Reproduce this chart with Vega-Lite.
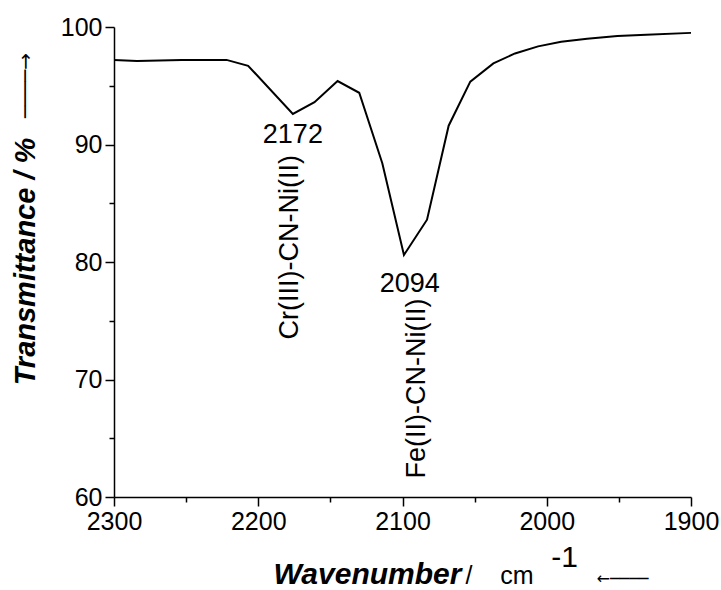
{
  "$schema": "https://vega.github.io/schema/vega-lite/v6.json",
  "width": 577,
  "height": 470,
  "autosize": {"type": "none"},
  "padding": {"left": 114, "top": 27, "right": 30, "bottom": 93},
  "background": "white",
  "config": {"view": {"stroke": null}, "font": "Liberation Sans"},
  "datasets": {
    "spectrum": [
      {"w": 2300, "T": 97.2},
      {"w": 2284, "T": 97.1},
      {"w": 2253, "T": 97.2},
      {"w": 2222, "T": 97.2},
      {"w": 2207, "T": 96.7},
      {"w": 2176, "T": 92.6},
      {"w": 2161, "T": 93.6},
      {"w": 2145, "T": 95.4},
      {"w": 2130, "T": 94.4},
      {"w": 2114, "T": 88.4},
      {"w": 2099, "T": 80.6},
      {"w": 2083, "T": 83.6},
      {"w": 2068, "T": 91.6},
      {"w": 2053, "T": 95.35},
      {"w": 2037, "T": 96.9},
      {"w": 2022, "T": 97.75},
      {"w": 2006, "T": 98.35},
      {"w": 1990, "T": 98.75},
      {"w": 1972, "T": 99.0},
      {"w": 1951, "T": 99.23},
      {"w": 1931, "T": 99.35},
      {"w": 1900, "T": 99.5}
    ],
    "peaks": [
      {"w": 2176, "T": 90.1, "label": "2172"},
      {"w": 2095, "T": 77.45, "label": "2094"}
    ],
    "bonds": [
      {"w": 2178, "T": 89.1, "label": "Cr(III)-CN-Ni(II)"},
      {"w": 2090, "T": 76.9, "label": "Fe(II)-CN-Ni(II)"}
    ]
  },
  "resolve": {"axis": {"x": "independent", "y": "independent"}},
  "layer": [
    {
      "data": {"name": "spectrum"},
      "mark": {"type": "line", "color": "black", "strokeWidth": 2},
      "encoding": {
        "x": {
          "field": "w", "type": "quantitative",
          "scale": {"domain": [1900, 2300], "reverse": true, "nice": false, "zero": false},
          "axis": {
            "orient": "bottom", "values": [2300, 2200, 2100, 2000, 1900], "format": "d",
            "grid": false, "tickSize": 9, "tickWidth": 1.5, "tickColor": "black",
            "domainWidth": 1.5, "domainColor": "black",
            "labelFont": "Liberation Sans", "labelFontSize": 25, "labelColor": "black",
            "labelPadding": 3, "labelFlush": false, "labelOverlap": false,
            "title": "Wavenumber", "titleFont": "Liberation Sans", "titleFontSize": 30,
            "titleFontWeight": "bold", "titleFontStyle": "italic", "titleColor": "black",
            "titleX": 253, "titleY": 86, "titleAlign": "center", "titleBaseline": "alphabetic"
          }
        },
        "y": {
          "field": "T", "type": "quantitative",
          "scale": {"domain": [60, 100], "nice": false, "zero": false},
          "axis": {
            "orient": "left", "values": [60, 70, 80, 90, 100],
            "grid": false, "tickSize": 9, "tickWidth": 1.5, "tickColor": "black",
            "domainWidth": 1.5, "domainColor": "black",
            "labelFont": "Liberation Sans", "labelFontSize": 25, "labelColor": "black",
            "labelPadding": 3, "labelFlush": false, "labelOverlap": false,
            "title": "Transmittance / %", "titleFont": "Liberation Sans", "titleFontSize": 29,
            "titleFontWeight": "bold", "titleFontStyle": "italic", "titleColor": "black",
            "titleAngle": 270, "titleX": -89, "titleY": 234, "titleAlign": "center", "titleBaseline": "middle"
          }
        }
      }
    },
    {
      "data": {"name": "spectrum"},
      "mark": {"type": "line", "opacity": 0},
      "encoding": {
        "x": {
          "field": "w", "type": "quantitative",
          "axis": {
            "orient": "bottom", "values": [2250, 2150, 2050, 1950], "labels": false, "domain": false,
            "grid": false, "tickSize": 5, "tickWidth": 1.5, "tickColor": "black",
            "title": "/\u00a0\u00a0\u00a0\u00a0cm", "titleFont": "Liberation Sans", "titleFontSize": 25,
            "titleFontWeight": "normal", "titleColor": "black",
            "titleX": 385, "titleY": 86, "titleAlign": "center", "titleBaseline": "alphabetic"
          }
        },
        "y": {
          "field": "T", "type": "quantitative",
          "axis": {
            "orient": "left", "values": [95, 85, 75, 65], "labels": false, "domain": false,
            "grid": false, "tickSize": 5, "tickWidth": 1.5, "tickColor": "black",
            "title": "────→", "titleFont": "DejaVu Sans", "titleFontSize": 20,
            "titleFontWeight": "normal", "titleColor": "black",
            "titleAngle": 270, "titleX": -89, "titleY": 58, "titleAlign": "center", "titleBaseline": "middle"
          }
        }
      }
    },
    {
      "data": {"name": "spectrum"},
      "mark": {"type": "line", "opacity": 0},
      "encoding": {
        "x": {
          "field": "w", "type": "quantitative",
          "axis": {
            "orient": "bottom", "labels": false, "domain": false, "ticks": false, "grid": false,
            "title": "-1", "titleFont": "Liberation Sans", "titleFontSize": 30,
            "titleFontWeight": "normal", "titleColor": "black",
            "titleX": 450, "titleY": 69, "titleAlign": "center", "titleBaseline": "alphabetic"
          }
        },
        "y": {"field": "T", "type": "quantitative", "axis": null}
      }
    },
    {
      "data": {"name": "spectrum"},
      "mark": {"type": "line", "opacity": 0},
      "encoding": {
        "x": {
          "field": "w", "type": "quantitative",
          "axis": {
            "orient": "bottom", "labels": false, "domain": false, "ticks": false, "grid": false,
            "title": "←────", "titleFont": "DejaVu Sans", "titleFontSize": 16,
            "titleFontWeight": "normal", "titleColor": "black",
            "titleX": 508, "titleY": 81, "titleAlign": "center", "titleBaseline": "middle"
          }
        },
        "y": {"field": "T", "type": "quantitative", "axis": null}
      }
    },
    {
      "data": {"name": "peaks"},
      "mark": {"type": "text", "font": "Liberation Sans", "fontSize": 27, "color": "black", "align": "center", "baseline": "alphabetic"},
      "encoding": {
        "x": {"field": "w", "type": "quantitative", "axis": null},
        "y": {"field": "T", "type": "quantitative", "axis": null},
        "text": {"field": "label"}
      }
    },
    {
      "data": {"name": "bonds"},
      "mark": {"type": "text", "font": "Liberation Sans", "fontSize": 27, "color": "black", "align": "right", "baseline": "middle", "angle": 270},
      "encoding": {
        "x": {"field": "w", "type": "quantitative", "axis": null},
        "y": {"field": "T", "type": "quantitative", "axis": null},
        "text": {"field": "label"}
      }
    }
  ]
}
